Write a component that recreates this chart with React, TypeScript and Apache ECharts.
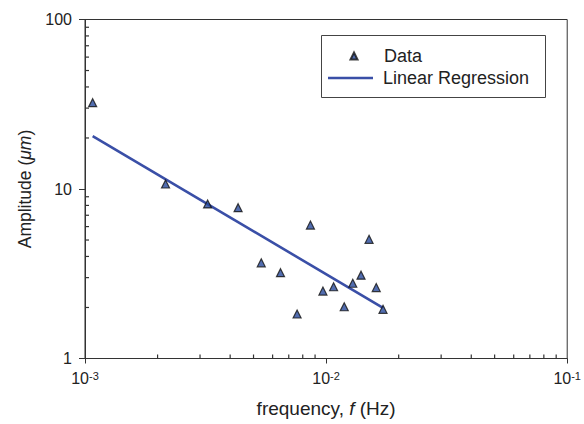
import React, { useEffect, useRef } from "react";
import * as echarts from "echarts";

const frequency: number[] = [
  0.001076, 0.002158, 0.003225, 0.004315, 0.005383, 0.00647, 0.00861, 0.00758,
  0.0097, 0.01074, 0.01189, 0.0129, 0.01396, 0.01507, 0.01614, 0.01722,
];
const amplitude: number[] = [
  32.3, 10.7, 8.16, 7.76, 3.67, 3.21, 6.13, 1.83, 2.5, 2.65, 2.02, 2.78, 3.1,
  5.05, 2.62, 1.95,
];
const regressionFreq: number[] = [0.001076, 0.01722];
const regressionAmp: number[] = [20.5, 1.99];

const xMinorTicks: number[] = [
  0.002, 0.003, 0.004, 0.005, 0.006, 0.007, 0.008, 0.009, 0.02, 0.03, 0.04,
  0.05, 0.06, 0.07, 0.08, 0.09,
];
const yMinorTicks: number[] = [2, 3, 4, 5, 6, 7, 8, 9, 20, 30, 40, 50, 60, 70, 80, 90];

const FONT = "'Liberation Sans', Arial, Helvetica, sans-serif";
const AXIS = "#333";
const TEXT = "#222";
const LINE_COLOR = "#3a4fa7";
const MARK_COLOR = "#27499b";

export default function App() {
  const ref = useRef<HTMLDivElement>(null);

  useEffect(() => {
    if (!ref.current) return;
    const chart = echarts.init(ref.current, undefined, { renderer: "svg" });

    const legendText = {
      fontFamily: FONT,
      fontSize: 18,
      color: TEXT,
      lineHeight: 20,
    };

    const option: any = {
      animation: false,
      backgroundColor: "#fff",
      textStyle: { fontFamily: FONT },
      grid: {
        left: 85,
        top: 19.5,
        right: 14,
        bottom: 65.5,
        show: true,
        borderColor: AXIS,
        borderWidth: 1,
        backgroundColor: "transparent",
      },
      graphic: [
        {
          type: "rect",
          left: 321,
          top: 35,
          shape: { width: 224, height: 62 },
          style: { fill: "#fff", stroke: "#444", lineWidth: 1 },
          z: 50,
        },
      ],
      legend: [
        {
          orient: "vertical",
          left: 349.5,
          top: 35,
          padding: [11, 0, 0, 0],
          itemWidth: 7,
          itemHeight: 7,
          textStyle: { ...legendText, padding: [0, 0, 0, 21.5] },
          data: [{ name: "Data", icon: "triangle" }],
          z: 60,
        },
        {
          orient: "vertical",
          left: 328,
          top: 35,
          padding: [33, 0, 0, 0],
          itemWidth: 45,
          itemHeight: 2.6,
          textStyle: { ...legendText, padding: [0, 0, 0, 5] },
          data: [{ name: "Linear Regression", icon: "rect" }],
          z: 60,
        },
      ],
      xAxis: [
        {
          type: "log",
          logBase: 10,
          min: 0.001,
          max: 0.1,
          position: "bottom",
          axisLine: { show: true, lineStyle: { color: AXIS, width: 1 } },
          axisTick: { show: true, inside: false, length: 5, lineStyle: { color: AXIS } },
          splitLine: { show: false },
          minorTick: { show: false },
          axisLabel: {
            margin: 12,
            color: TEXT,
            fontFamily: FONT,
            fontSize: 16,
            formatter: (v: number) => "10{sup|" + Math.round(Math.log10(v)) + "}",
            rich: {
              sup: { fontSize: 11, verticalAlign: "top", color: TEXT, fontFamily: FONT },
            },
          },
          name: "frequency, {i|f} (Hz)",
          nameLocation: "middle",
          nameGap: 40,
          nameTextStyle: {
            fontFamily: FONT,
            fontSize: 19,
            color: TEXT,
            rich: { i: { fontStyle: "italic", fontSize: 19, fontFamily: FONT, color: TEXT } },
          },
        },
      ],
      yAxis: [
        {
          type: "log",
          logBase: 10,
          min: 1,
          max: 100,
          position: "left",
          axisLine: { show: true, lineStyle: { color: AXIS, width: 1 } },
          axisTick: { show: true, inside: false, length: 6, lineStyle: { color: AXIS } },
          splitLine: { show: false },
          minorTick: { show: false },
          axisLabel: { margin: 13, color: TEXT, fontFamily: FONT, fontSize: 16 },
          name: "Amplitude ({i|μm})",
          nameLocation: "middle",
          nameGap: 51,
          nameRotate: 90,
          nameTextStyle: {
            fontFamily: FONT,
            fontSize: 17.5,
            color: TEXT,
            rich: { i: { fontStyle: "italic", fontSize: 17.5, fontFamily: FONT, color: TEXT } },
          },
        },
      ],
      series: [
        {
          name: "xMinorTicks",
          type: "custom",
          silent: true,
          clip: false,
          data: xMinorTicks.map((v) => [v, 1]),
          renderItem: (params: any, api: any) => {
            const p = api.coord([api.value(0), api.value(1)]);
            return {
              type: "line",
              shape: { x1: p[0], y1: p[1], x2: p[0], y2: p[1] - 4 },
              style: { stroke: AXIS, lineWidth: 1.2 },
            };
          },
          z: 1,
        },
        {
          name: "yMinorTicks",
          type: "custom",
          silent: true,
          clip: false,
          data: yMinorTicks.map((v) => [0.001, v]),
          renderItem: (params: any, api: any) => {
            const p = api.coord([api.value(0), api.value(1)]);
            return {
              type: "line",
              shape: { x1: p[0], y1: p[1], x2: p[0] + 4, y2: p[1] },
              style: { stroke: AXIS, lineWidth: 1.2 },
            };
          },
          z: 1,
        },
        {
          name: "Linear Regression",
          type: "line",
          data: regressionFreq.map((f, i) => [f, regressionAmp[i]]),
          symbol: "none",
          showSymbol: false,
          lineStyle: { color: LINE_COLOR, width: 2.6 },
          itemStyle: { color: LINE_COLOR },
          z: 2,
        },
        {
          name: "Data",
          type: "scatter",
          data: frequency.map((f, i) => [f, amplitude[i]]),
          symbol: "triangle",
          symbolSize: 8,
          itemStyle: { color: MARK_COLOR, borderColor: "#111", borderWidth: 1.2 },
          z: 3,
        },
      ],
    };

    chart.setOption(option);
    return () => chart.dispose();
  }, []);

  return (
    <div
      ref={ref}
      style={{ position: "fixed", left: 0, top: 0, width: 584, height: 424, background: "#fff" }}
    />
  );
}
